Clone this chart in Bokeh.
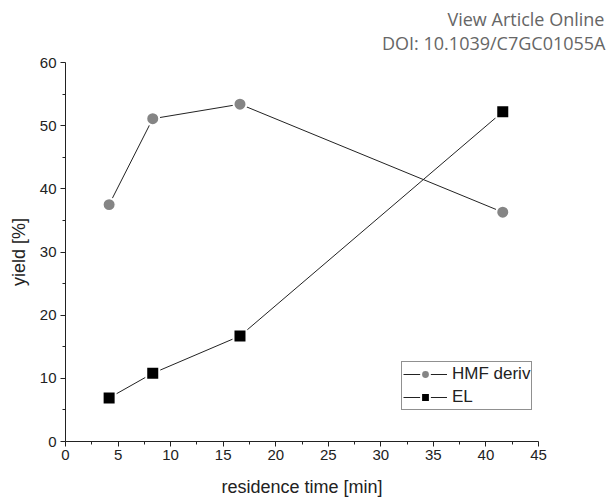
from bokeh.plotting import figure
from bokeh.models import Range1d, Title, Legend, LegendItem, FixedTicker
from bokeh.embed import file_html
from bokeh.resources import INLINE

time_hmf = [4.15, 8.3, 16.6, 41.6]
yield_hmf = [37.5, 51.1, 53.4, 36.3]
time_el = [4.15, 8.3, 16.6, 41.6]
yield_el = [6.9, 10.8, 16.7, 52.2]
x_ticks = [0, 5, 10, 15, 20, 25, 30, 35, 40, 45]
y_ticks = [0, 10, 20, 30, 40, 50, 60]
header_lines = ["View Article Online", "DOI: 10.1039/C7GC01055A"]

p = figure(width=609, height=502, output_backend="svg", toolbar_location=None,
           x_range=Range1d(0, 45), y_range=Range1d(0, 60),
           min_border_left=65, min_border_right=71, min_border_top=62, min_border_bottom=61)
p.outline_line_color = None
p.xgrid.visible = False
p.ygrid.visible = False

font = "Liberation Sans"
for ax, ticks in ((p.xaxis[0], x_ticks), (p.yaxis[0], y_ticks)):
    ax.ticker = FixedTicker(ticks=ticks,
                            minor_ticks=[t + (ticks[1] - ticks[0]) / 2 for t in ticks[:-1]])
    ax.major_tick_in = 0
    ax.major_tick_out = 5
    ax.minor_tick_in = 0
    ax.minor_tick_out = 3
    ax.axis_line_color = "#222222"
    ax.major_tick_line_color = "#222222"
    ax.minor_tick_line_color = "#222222"
    ax.major_label_text_font = font
    ax.major_label_text_font_size = "15px"
    ax.major_label_text_color = "#222222"
    ax.axis_label_text_font = font
    ax.axis_label_text_font_size = "18px"
    ax.axis_label_text_font_style = "normal"
    ax.axis_label_text_color = "#222222"
p.xaxis.axis_label = "residence time [min]"
p.yaxis.axis_label = "yield [%]"
p.xaxis.axis_label_standoff = 14
p.yaxis.axis_label_standoff = 8
p.yaxis.major_label_standoff = 4
p.xaxis.major_label_standoff = 3

l1 = p.line(time_hmf, yield_hmf, line_color="#222222", line_width=1)
s1 = p.scatter(time_hmf, yield_hmf, marker="circle", size=13, fill_color="#858585",
               line_color="white", line_width=2)
l2 = p.line(time_el, yield_el, line_color="#222222", line_width=1)
s2 = p.scatter(time_el, yield_el, marker="square", size=13, fill_color="black",
               line_color="white", line_width=2)

legend = Legend(items=[LegendItem(label="HMF deriv", renderers=[l1, s1]),
                       LegendItem(label="EL", renderers=[l2, s2])],
                location=(336, 31), border_line_color="#222222", border_line_width=1,
                label_text_font=font, label_text_font_size="17px", label_text_color="#222222",
                glyph_width=44, glyph_height=22, label_height=22, label_standoff=5,
                spacing=1, padding=1, margin=0, background_fill_alpha=1)
p.add_layout(legend, "center")

header = "\u00a0" * 14 + header_lines[0] + "\n" + header_lines[1]
p.add_layout(Title(text=header, align="right",
                   offset=-67, vertical_align="top", text_line_height=1.0,
                   text_font="Open Sans", text_font_size="18px", text_font_style="normal",
                   text_color="#666666", standoff=12), "above")

open("out.html", "w").write(file_html(p, INLINE))
